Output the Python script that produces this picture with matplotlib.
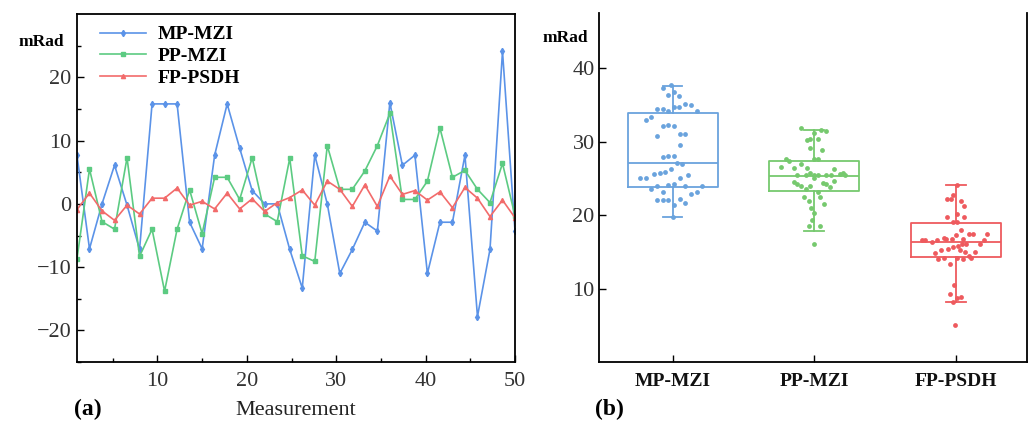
import numpy as np
import matplotlib
matplotlib.use("Agg")
import matplotlib.pyplot as plt

plt.rcParams['font.family'] = ['Liberation Serif', 'DejaVu Serif']

# ---------------- data: panel (a) ----------------
series_names = ["MP-MZI", "PP-MZI", "FP-PSDH"]
mp_mzi = [7.7, -7.1, 0.0, 6.1, -0.2, -7.2, 15.8, 15.8, 15.8, -2.9, -7.1, 7.7,
          15.8, 8.8, 2.1, 0.0, 0.0, -7.2, -13.3, 7.7, 0.0, -11.0, -7.2, -2.9,
          -4.3, 16.0, 6.1, 7.7, -11.0, -2.9, -2.9, 7.7, -17.8, -7.2, 24.1, -4.3]
pp_mzi = [-8.7, 5.5, -2.8, -4.0, 7.3, -8.3, -4.0, -13.8, -4.0, 2.2, -4.7, 4.2,
          4.2, 0.7, 7.3, -1.6, -2.8, 7.2, -8.2, -9.1, 9.2, 2.3, 2.3, 5.2,
          9.2, 14.3, 0.7, 0.7, 3.6, 12.0, 4.2, 5.3, 2.3, 0.2, 6.4, -1.9]
fp_psdh = [-0.9, 1.7, -1.1, -2.6, -0.2, -1.6, 0.9, 0.9, 2.5, -0.2, 0.4, -0.8,
           1.7, -0.8, 0.8, -1.2, 0.2, 1.0, 2.2, -0.2, 3.6, 2.3, -0.4, 3.0,
           -0.4, 4.4, 1.5, 2.1, 0.6, 1.9, -0.6, 2.6, 0.9, -2.0, 0.6, -2.2]
x_ticks_a = [10, 20, 30, 40, 50]

# ---------------- data: panel (b) ----------------
categories = ["MP-MZI", "PP-MZI", "FP-PSDH"]
box_q1 = [23.8, 23.3, 14.3]
box_med = [27.1, 25.3, 16.3]
box_q3 = [33.9, 27.3, 18.9]
box_lo = [19.7, 17.9, 8.2]
box_hi = [37.6, 31.6, 24.1]

mp_pts = [37.7, 37.3, 36.7, 36.4, 36.2, 34.5, 34.5, 34.2, 34.7, 34.7, 35.1, 35.0,
          34.2, 33.0, 33.4, 32.1, 32.3, 32.1, 30.8, 31.0, 31.0, 29.6, 27.9, 28.1,
          28.0, 27.1, 27.0, 25.0, 25.0, 25.6, 25.7, 25.8, 26.3, 25.0, 25.5, 23.5,
          24.0, 23.1, 24.1, 24.3, 23.9, 22.9, 23.1, 24.0, 22.1, 22.0, 22.1, 21.4,
          22.2, 21.6, 19.8]
mp_jit = [-0.01, -0.07, 0.01, -0.03, 0.045, -0.11, -0.07, -0.03, 0.01, 0.045, 0.09, 0.13,
          0.17, -0.19, -0.15, -0.07, -0.03, 0.01, -0.11, 0.05, 0.09, 0.05, -0.07, -0.03,
          0.01, 0.03, 0.07, -0.23, -0.19, -0.13, -0.09, -0.05, -0.01, 0.05, 0.11, -0.15,
          -0.11, -0.07, -0.03, 0.01, 0.09, 0.13, 0.17, 0.21, -0.11, -0.07, -0.03, 0.01,
          0.05, 0.09, 0.0]

pp_pts = [31.8, 31.2, 31.6, 31.5, 30.2, 30.3, 30.4, 29.2, 28.8, 27.7, 27.6, 27.6,
          27.4, 26.4, 27.0, 26.6, 26.4, 26.3, 25.7, 25.4, 25.6, 25.4, 25.4, 25.4,
          25.5, 25.7, 25.4, 25.4, 25.0, 24.5, 24.3, 24.0, 24.0, 24.4, 24.2, 23.8,
          24.6, 23.5, 23.2, 22.5, 22.5, 21.9, 21.5, 20.9, 20.3, 19.4, 18.5, 18.5,
          16.0]
pp_jit = [-0.09, 0.0, 0.05, 0.08, -0.05, -0.03, 0.03, -0.03, 0.055, 0.0, 0.03, -0.2,
          -0.18, -0.14, -0.09, -0.235, -0.05, 0.14, 0.2, 0.22, 0.18, 0.12, 0.08, 0.025,
          0.0, -0.03, -0.06, -0.12, 0.0, -0.14, -0.12, -0.09, -0.03, 0.06, 0.08, 0.11,
          0.14, -0.06, 0.03, -0.07, 0.04, -0.04, 0.07, -0.02, 0.0, -0.015, -0.04, 0.04,
          0.0]

fp_pts = [24.1, 22.8, 22.2, 22.2, 21.9, 21.3, 20.1, 19.7, 19.7, 19.1, 19.0, 18.0,
          16.8, 16.6, 16.6, 16.4, 16.6, 16.9, 16.8, 17.3, 16.8, 17.4, 17.4, 17.4,
          16.0, 16.0, 15.8, 14.9, 15.3, 15.4, 15.7, 15.3, 15.0, 15.0, 16.0, 16.6,
          14.0, 14.2, 13.3, 14.1, 14.0, 14.5, 14.2, 10.5, 9.3, 8.7, 8.9, 8.2, 5.1]
fp_jit = [0.005, -0.02, -0.065, -0.035, 0.035, 0.06, 0.005, -0.065, 0.06, -0.02, 0.005, 0.035,
          -0.07, -0.24, -0.215, -0.17, -0.13, -0.085, -0.03, 0.0, 0.05, 0.095, 0.12, 0.22,
          0.075, 0.045, 0.015, -0.15, -0.105, -0.055, -0.02, 0.03, 0.065, 0.135, 0.17, 0.2,
          -0.125, -0.08, -0.04, 0.005, 0.05, 0.09, 0.11, -0.01, -0.04, 0.005, 0.04, -0.02,
          -0.005]

# ---------------- styling ----------------
c_blue = "#5B93E8"
c_green = "#5CCB82"
c_red = "#F26B6B"
cb_blue = "#6AA3DD"
cb_green = "#76C96E"
cb_red = "#EE5A5E"
tick_col = "#333333"

fig = plt.figure(figsize=(10.29, 4.21), dpi=100)

# ---------- panel (a) ----------
ax1 = fig.add_axes([0.0748, 0.140, 0.4257, 0.8266])
n = len(mp_mzi)
xpos = np.linspace(1, 50, n)
ax1.plot(xpos, mp_mzi, color=c_blue, lw=1.2, marker='d', ms=3.2, label=series_names[0])
ax1.plot(xpos, pp_mzi, color=c_green, lw=1.2, marker='s', ms=3.0, label=series_names[1])
ax1.plot(xpos, fp_psdh, color=c_red, lw=1.2, marker='^', ms=3.0, label=series_names[2])
ax1.set_xlim(1, 50)
ax1.set_ylim(-25, 30)
ax1.set_xticks(x_ticks_a)
ax1.set_xticks([5, 15, 25, 35, 45], minor=True)
ax1.set_yticks([-20, -10, 0, 10, 20])
ax1.set_yticklabels(["\u221220", "\u221210", "0", "10", "20"])
ax1.set_yticks([-25, -15, -5, 5, 15, 25], minor=True)
ax1.tick_params(axis='both', which='both', direction='in', labelsize=16,
                top=False, right=False, width=1.0, labelcolor=tick_col)
ax1.tick_params(which='major', length=5)
ax1.tick_params(which='minor', length=3)
ax1.tick_params(axis='x', pad=7)
ax1.tick_params(axis='y', pad=4)
for s in ax1.spines.values():
    s.set_linewidth(1.3)
ax1.set_xlabel("Measurement", fontsize=16, color="#222222")
ax1.xaxis.set_label_coords(0.5, -0.112)
leg = ax1.legend(loc='upper left', bbox_to_anchor=(0.025, 1.0), frameon=False,
                 prop={'weight': 'bold', 'size': 14}, handlelength=2.4,
                 handletextpad=0.6, labelspacing=0.22, borderaxespad=0.2)
fig.text(0.018, 0.89, "mRad", fontsize=12.5, fontweight='bold', ha='left')
fig.text(0.072, 0.015, "(a)", fontsize=17, fontweight='bold', ha='left')

# ---------- panel (b) ----------
ax2 = fig.add_axes([0.582, 0.140, 0.4157, 0.829])
stats = []
for i in range(len(categories)):
    stats.append(dict(med=box_med[i], q1=box_q1[i], q3=box_q3[i],
                      whislo=box_lo[i], whishi=box_hi[i], fliers=[]))
cols_b = [cb_blue, cb_green, cb_red]
bp = ax2.bxp(stats, positions=[0, 1, 2], widths=0.635, showfliers=False,
             patch_artist=False, capwidths=0.14)
for i, c in enumerate(cols_b):
    bp['boxes'][i].set(color=c, lw=1.3)
    bp['medians'][i].set(color=c, lw=1.3)
    for w in bp['whiskers'][2 * i:2 * i + 2]:
        w.set(color=c, lw=1.3)
    for cp in bp['caps'][2 * i:2 * i + 2]:
        cp.set(color=c, lw=1.3)

for i, (pts, jit, c) in enumerate(zip([mp_pts, pp_pts, fp_pts],
                                      [mp_jit, pp_jit, fp_jit], cols_b)):
    ax2.scatter(np.array(jit) + i, pts, s=12, color=c, zorder=3, linewidths=0)

ax2.set_xlim(-0.52, 2.5)
ax2.set_ylim(0, 47.5)
ax2.set_xticks([0, 1, 2])
ax2.set_xticklabels(categories, fontsize=14, fontweight='bold')
ax2.set_yticks([10, 20, 30, 40])
ax2.tick_params(axis='both', direction='in', labelsize=16, length=5, width=1.0,
                top=False, right=False, labelcolor=tick_col)
ax2.tick_params(axis='x', labelsize=14, pad=8, labelcolor='#111111')
ax2.tick_params(axis='y', pad=3)
for s in ax2.spines.values():
    s.set_linewidth(1.3)
ax2.spines['top'].set_visible(False)
fig.text(0.527, 0.9, "mRad", fontsize=12.5, fontweight='bold', ha='left')
fig.text(0.578, 0.015, "(b)", fontsize=17, fontweight='bold', ha='left')

fig.savefig("out.png", dpi=100)
